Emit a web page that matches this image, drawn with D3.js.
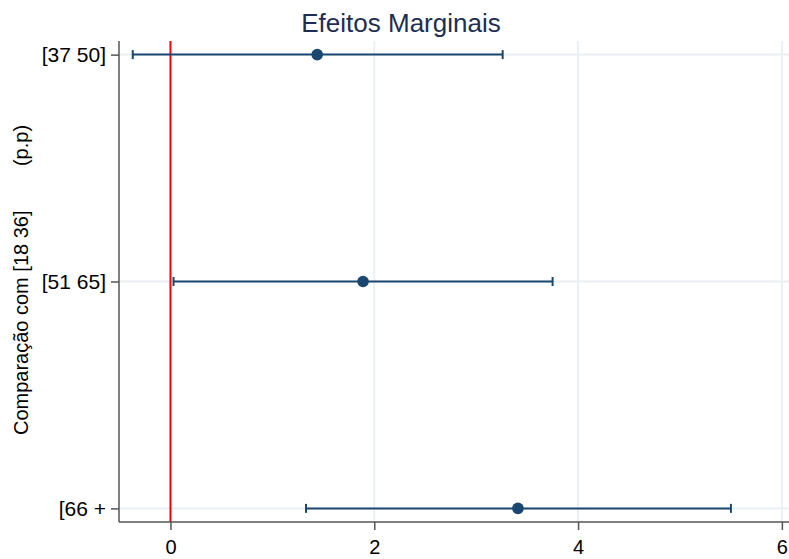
<!DOCTYPE html>
<html>
<head>
<meta charset="utf-8">
<script src="https://cdn.jsdelivr.net/npm/d3@7"></script>
<style>
  body { margin: 0; background: #fff; }
  svg { display: block; font-family: "Liberation Sans", Arial, sans-serif; }
</style>
</head>
<body>
<div id="chart"></div>
<script>
// data
const categories = ['[37 50]', '[51 65]', '[66 +'];
const estimates = [1.44, 1.89, 3.41];
const lower = [-0.37, 0.03, 1.33];
const upper = [3.26, 3.75, 5.50];
const xTicks = [0, 2, 4, 6];

const rows = categories.map((c, i) => ({ cat: c, est: estimates[i], lo: lower[i], hi: upper[i] }));

const W = 789, H = 559;
const plot = { left: 119, right: 789, top: 41, bottom: 522 };
const navy = '#1a476f';
const grid = '#eaf0f3';

const svg = d3.select('#chart').append('svg')
  .attr('width', W)
  .attr('height', H);

const x = d3.scaleLinear().domain([-0.505, 6.07]).range([plot.left, plot.right]);
const y = d3.scalePoint().domain(categories).range([plot.top, plot.bottom]).padding(0.06);

// gridlines
svg.append('g')
  .selectAll('line')
  .data(xTicks.filter(t => t !== 0))
  .join('line')
  .attr('x1', d => x(d)).attr('x2', d => x(d))
  .attr('y1', plot.top).attr('y2', plot.bottom)
  .attr('stroke', grid).attr('stroke-width', 2);

svg.append('g')
  .selectAll('line')
  .data(categories)
  .join('line')
  .attr('x1', plot.left).attr('x2', plot.right)
  .attr('y1', d => y(d)).attr('y2', d => y(d))
  .attr('stroke', grid).attr('stroke-width', 2);

// reference line at zero
svg.append('line')
  .attr('x1', x(0)).attr('x2', x(0))
  .attr('y1', plot.top).attr('y2', plot.bottom)
  .attr('stroke', '#ff0000').attr('stroke-width', 2);

// axes
const xAxis = svg.append('g')
  .attr('transform', `translate(0,${plot.bottom})`)
  .call(d3.axisBottom(x).tickValues(xTicks).tickFormat(d3.format('d')).tickSizeOuter(0).tickSize(8).tickPadding(10));
const yAxis = svg.append('g')
  .attr('transform', `translate(${plot.left},0)`)
  .call(d3.axisLeft(y).tickSizeOuter(0).tickSize(8).tickPadding(5));

[xAxis, yAxis].forEach(a => {
  a.select('.domain').attr('stroke', '#555').attr('stroke-width', 1.5);
  a.selectAll('.tick line').attr('stroke', '#555').attr('stroke-width', 1.5);
  a.selectAll('.tick text')
    .attr('fill', '#000')
    .attr('font-size', '21px')
    .attr('font-family', '"Liberation Sans", Arial, sans-serif');
});
xAxis.selectAll('.tick text').attr('font-size', '20px');
xAxis.select('.domain').attr('d', `M${plot.left},0H${plot.right}`);
yAxis.select('.domain').attr('d', `M0,${plot.top}V${plot.bottom}`);

// confidence intervals
const ci = svg.append('g').selectAll('g').data(rows).join('g');

ci.append('line')
  .attr('x1', d => x(d.lo)).attr('x2', d => x(d.hi))
  .attr('y1', d => y(d.cat)).attr('y2', d => y(d.cat))
  .attr('stroke', navy).attr('stroke-width', 2);

ci.selectAll('.cap')
  .data(d => [[d.lo, d.cat], [d.hi, d.cat]])
  .join('line')
  .attr('class', 'cap')
  .attr('x1', d => x(d[0])).attr('x2', d => x(d[0]))
  .attr('y1', d => y(d[1]) - 4.5).attr('y2', d => y(d[1]) + 4.5)
  .attr('stroke', navy).attr('stroke-width', 2);

ci.append('circle')
  .attr('cx', d => x(d.est))
  .attr('cy', d => y(d.cat))
  .attr('r', 5.8)
  .attr('fill', navy);

// title
svg.append('text')
  .attr('x', 401)
  .attr('y', 32)
  .attr('text-anchor', 'middle')
  .attr('font-size', '26px')
  .attr('fill', '#1e2d53')
  .text('Efeitos Marginais');

// y axis title
svg.append('text')
  .attr('transform', 'translate(28,280) rotate(-90)')
  .attr('text-anchor', 'middle')
  .attr('font-size', '20px')
  .attr('fill', '#000')
  .style('white-space', 'pre')
  .text('Comparação com [18 36]        (p.p)');
</script>
</body>
</html>
